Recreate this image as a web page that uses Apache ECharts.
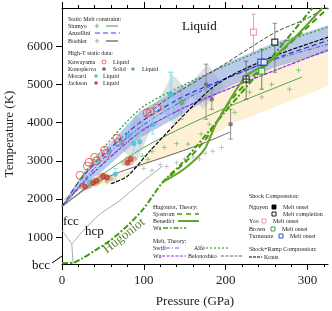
<!DOCTYPE html>
<html><head><meta charset="utf-8">
<script src="https://cdn.jsdelivr.net/npm/echarts@6/dist/echarts.min.js"></script>
<style>html,body{margin:0;padding:0;background:#fff}#c{width:332px;height:311px}</style>
</head><body><div id="c"></div>
<script>
// ---- axes ----
const xLabels = [0, 100, 200, 300];
const xMinor = [20, 40, 60, 80, 120, 140, 160, 180, 220, 240, 260, 280, 320];
const yLabels = [1000, 2000, 3000, 4000, 5000, 6000];

// ---- bands [P, T] ----
const krausBandUpper = [[20,2300],[60,2400],[80,2600],[107,3250],[140,4000],[180,4850],[205,5215],[260,5750],[325,6236]];
const krausBandLower = [[20,2200],[70,2650],[128,3100],[168,3420],[205,3950],[260,4400],[325,4950]];
const meltBandUpper = [[0,1820],[25,2650],[50,3250],[95,4300],[150,4980],[205,5600],[260,6100],[325,6550]];
const meltBandLower = [[0,1800],[25,2350],[50,2750],[95,3600],[150,4250],[205,4950],[260,5450],[325,5850]];
const morardShade1 = [[70,3300],[90,4200],[110,3900],[92,3000]];
const morardShade2 = [[115,4500],[135,5250],[158,4750],[138,3900]];
const konopShade = [[151,4900],[178,5530],[198,4950],[172,4350]];

// ---- phase boundaries ----
const bccFcc = [[0,1185],[12,820]];
const bccHcp = [[12,820],[13.5,300]];
const fccHcp = [[12,820],[25,1150],[46,1600],[70,1950],[95,2400],[123,2860]];

// ---- melt lines ----
const sinmyoLine = [[0,1800],[50,2650],[100,3350],[150,3900],[205,4430],[293,5190]];
const anzelliniLine = [[0,1800],[22,2500],[50,3150],[95,4000],[150,4700],[217,5300],[270,5750],[325,6150]];
const boehlerLine = [[0,1800],[35,2350],[70,2700],[128,3120],[168,3420],[205,3750]];
const swiftLine = [[0,1800],[50,3050],[100,3950],[150,4600],[200,5150],[260,5650],[325,6050]];
const wuMeltLine = [[0,1800],[34,2600],[95,3750],[150,4400],[217,5000],[270,5450],[325,5900]];
const alfeLine = [[0,1800],[40,3050],[95,4350],[150,5000],[217,5650],[270,6100],[325,6500]];
const belonoshkoLine = [[100,4150],[127,4600],[200,5550],[261,6370],[298,6710],[325,7050]];
const krausLine = [[60,2400],[80,2600],[107,3250],[140,4000],[180,4850],[205,5215],[260,5750],[325,6236]];

// ---- Hugoniots ----
const wuHugoniot = [[0,320],[15,340],[25,450],[40,650],[58,900],[80,1300],[99,1730],[123,2440],[145,2900],[163,3350],[200,4300],[250,5550],[306,7000]];
const sjostromHugoniot = [[123,2440],[150,2950],[175,3550],[205,4550],[235,5250],[257,5650],[290,6300],[325,7000]];
const benedictHugoniot = [[123,2440],[150,2800],[174,3300],[189,4000],[224,5200],[250,5550],[290,6350],[318,7000]];

// ---- data points [P, T] and error bars [P, T, low, high] ----
const kuwayama = [[22,2620],[31,2860],[33,2960],[40,3090],[42,3000],[52,3280],[54,3200],[67,3590],[69,3490],[104,4250],[108,4280],[116,4380]];
const jackson = [[28,2330],[38,2420],[42,2480],[50,2600],[55,2560],[80,2950],[84,3050]];
const morard = [[34,2440,2300,2600],[44,2990,2800,3150],[58,3250,3000,3500],[65,2650,2500,2800],[73,3490,3250,3700],[80,3650,3400,3950],[88,3450,3200,3700],[95,3500,3300,3750],[111,3960,3700,4400],[132,4740,4170,5320],[134,4740,4170,5320]];
const konopkovaSolid = [[176,5000,4090,5530],[183,4610,4350,4870],[206,3960,3570,4350]];
const konopkovaLiquid = [[146,4530,4090,4950]];
const sinmyoData = [[45,2500],[55,2450],[98,3120],[105,3040],[110,3250],[125,3350],[140,3450],[154,3440],[170,3700],[180,3960],[211,4270],[229,4800],[244,4670],[256,5000],[278,4875],[289,5370]];
const boehlerData = [[5,2000],[10,2050],[60,2500],[100,2800],[110,2750],[120,2900],[128,2850],[140,2950],[150,3050],[160,3100],[168,3050],[175,3200],[184,3250],[195,3350]];
const nguyenOnset = [[225,5140,4610,5610]];
const nguyenCompletion = [[260,6105,5320,6600]];
const yooOnset = [[234,6370,5840,6840]];
const brownOnset = [[244,5350,4875,5920]];
const turneaureOnset = [[243,5580],[247,5580]];

// ---------------- helpers ----------------
const SERIF = '"Liberation Serif", "DejaVu Serif", serif';
function bandSeries(upper, lower, fill, z) {
  return { type:'custom', z:z, silent:true, clip:true, xAxisIndex:0, yAxisIndex:0,
    renderItem: function(params, api) {
      const pts = upper.map(p => api.coord(p)).concat(lower.slice().reverse().map(p => api.coord(p)));
      return {type:'polygon', shape:{points:pts}, style:{fill:fill}};
    },
    data:[upper[0]] };
}
function polySeries(poly, fill, z) {
  return { type:'custom', z:z, silent:true, clip:true,
    renderItem: function(params, api) {
      return {type:'polygon', shape:{points: poly.map(p => api.coord(p))}, style:{fill:fill}};
    },
    data:[poly[0]] };
}
function lineSeries(data, color, width, dash, z) {
  return { type:'line', data:data, showSymbol:false, symbol:'none', smooth:0.25, silent:true, z:z||5,
    lineStyle:{color:color, width:width, type: dash || 'solid'} };
}
function errSeries(data, color, width, z) {
  return { type:'custom', z:z||6, silent:true, clip:true,
    renderItem: function(params, api) {
      const x = api.value(0), lo = api.value(2), hi = api.value(3);
      const a = api.coord([x, lo]), b = api.coord([x, hi]); const c = 2.2;
      const st = {stroke:color, lineWidth:width};
      return {type:'group', children:[
        {type:'line', shape:{x1:a[0],y1:a[1],x2:b[0],y2:b[1]}, style:st},
        {type:'line', shape:{x1:a[0]-c,y1:a[1],x2:a[0]+c,y2:a[1]}, style:st},
        {type:'line', shape:{x1:b[0]-c,y1:b[1],x2:b[0]+c,y2:b[1]}, style:st}]};
    },
    encode:{x:0, y:[2,3]}, data:data };
}
function scatter(data, symbol, size, itemStyle, z) {
  return { type:'scatter', data:data.map(d => [d[0], d[1]]), symbol:symbol, symbolSize:size, silent:true, z:z||8, itemStyle:itemStyle };
}
const PLUS = 'path://M0,4L8,4M4,0L4,8';
const XSQ = 'path://M0,0L8,0L8,8L0,8Z M4,0L4,8 M0,4L8,4';

// legend graphics
const LF = '6px ' + SERIF;
function T(x, y, text, font, fill) {
  return {type:'text', x:x, y:y, silent:true, z:100,
    style:{text:text, font:font||LF, fill:fill||'#222', verticalAlign:'middle', align:'left'}};
}
function L(x1, y1, x2, y2, color, w, dash) {
  return {type:'line', silent:true, z:100, shape:{x1:x1,y1:y1,x2:x2,y2:y2}, style:{stroke:color, lineWidth:w||1, lineDash:dash||null}};
}
function C(cx, cy, r, fill, stroke) {
  return {type:'circle', silent:true, z:100, shape:{cx:cx,cy:cy,r:r}, style:{fill:fill, stroke:stroke||null, lineWidth:0.8}};
}
function R(x, y, w, h, fill, stroke) {
  return {type:'rect', silent:true, z:100, shape:{x:x,y:y,width:w,height:h}, style:{fill:fill, stroke:stroke, lineWidth:0.9}};
}
function P(x, y, color) { return [L(x-2.2,y,x+2.2,y,color,0.8), L(x,y-2.2,x,y+2.2,color,0.8)]; }

const graphics = [
  T(68,19,'Static Melt constraint:'),
  T(68,26,'Sinmyo'), ...P(97,26,'#4caf50'), L(106,26,118,26,'#3c9e3c',1),
  T(68,33,'Anzellini'), L(95,33,120,33,'#3344ee',1,[5,3]),
  T(68,41,'Boehler'), ...P(97,41,'#999'), L(106,41,118,41,'#333',1),
  T(68,53,'High-T static data:'),
  T(68,62,'Kuwayama'), C(104,62,2,'none','#e8453c'), T(113,62,'Liquid'),
  T(68,69,'Konopkova'), C(104,69,1.8,'#666'), T(113,69,'Solid'), C(133,69,1.8,'#5cb85c'), T(142,69,'Liquid'),
  T(68,76,'Morard'), C(96,76,1.8,'#45c8d8'), T(103,76,'Liquid'),
  T(68,83,'Jackson'), C(96,83,1.8,'#d0433c'), T(103,83,'Liquid'),

  T(153,207,'Hugoniot, Theory:'),
  T(153,214,'Sjostrom'), L(177,214,199,214,'#4e9a06',1.6,[5,4]),
  T(153,221,'Benedict'), L(178,221,199,221,'#64a32c',2),
  T(153,228,'Wu'), L(163,228,186,228,'#3f9b0b',1.6,[5,2,1.5,2]),
  T(153,241,'Melt, Theory:'),
  T(153,248,'Swift'), L(166,248,181,248,'#5566ee',1.2,[4,2,1,2]), T(194,248,'Alfè'), L(206,248,228,248,'#5cb85c',1.5,[2,2]),
  T(153,256,'Wu'), L(162,256,186,256,'#8a2be2',1.2,[3,1.5]), T(188,256,'Belonoshko'), L(221,256,243,256,'#666',1.2,[3,1.5]),

  T(249,196,'Shock Compression:'),
  T(249,207,'Nguyen'), R(272,205,4,4,'#000','#000'), T(283,207,'Melt onset'),
  R(272,212,4,4,'#fff','#000'), T(283,214,'Melt completion'),
  T(249,221,'Yoo'), R(262,219,4,4,'#fff','#f08cb4'), T(273,221,'Melt onset'),
  T(249,229,'Brown'), R(271,227,4,4,'#fff','#2e9a2e'), T(282,229,'Melt onset'),
  T(249,236,'Turneaure'), R(279,234,4,4,'#fff','#1a3adf'), T(290,236,'Melt onset'),
  T(249,249,'Shock+Ramp Compression:'),
  L(249,257,262,257,'#000',1.2,[3,1]), T(264,257,'Kraus'),

  T(182,27,'Liquid','13px '+SERIF,'#111'),
  T(63,222,'fcc','13px '+SERIF,'#111'),
  T(85,232,'hcp','13px '+SERIF,'#111'),
  T(32,266,'bcc','13px '+SERIF,'#111'),
  L(52,263,62,256,'#000',1),
  {type:'text', x:124, y:236, rotation:0.66, silent:true, z:100,
   style:{text:'Hugoniot', font:'13px '+SERIF, fill:'#5d7b34', align:'center', verticalAlign:'middle'}},
  {type:'text', x:195, y:302, silent:true, z:100,
   style:{text:'Pressure (GPa)', font:'13px '+SERIF, fill:'#222', align:'center', verticalAlign:'middle'}},
  {type:'text', x:10, y:134, rotation:Math.PI/2, silent:true, z:100,
   style:{text:'Temperature (K)', font:'13px '+SERIF, fill:'#222', align:'center', verticalAlign:'middle'}}
];

const axisLineStyle = {lineStyle:{color:'#000', width:1}};
const plain = v => String(v);
const option = {
  animation:false,
  backgroundColor:'#fff',
  grid:{left:62, right:4, top:8, bottom:47},
  xAxis:[
    {type:'value', min:0, max:325, position:'bottom', axisLine:axisLineStyle,
     axisTick:{customValues:xLabels, length:6, lineStyle:{color:'#000'}},
     axisLabel:{customValues:xLabels, formatter:plain, fontFamily:SERIF, fontSize:13, color:'#222', margin:10},
     splitLine:{show:false}},
    {type:'value', min:0, max:325, position:'bottom', axisLine:{show:false},
     axisTick:{customValues:xMinor, length:3, lineStyle:{color:'#000'}}, axisLabel:{show:false}, splitLine:{show:false}},
    {type:'value', min:0, max:325, position:'top', axisLine:axisLineStyle,
     axisTick:{customValues:xLabels, length:6, lineStyle:{color:'#000'}}, axisLabel:{show:false}, splitLine:{show:false}},
    {type:'value', min:0, max:325, position:'top', axisLine:{show:false},
     axisTick:{customValues:xMinor, length:3, lineStyle:{color:'#000'}}, axisLabel:{show:false}, splitLine:{show:false}}
  ],
  yAxis:[
    {type:'value', min:300, max:7000, position:'left', axisLine:axisLineStyle,
     axisTick:{customValues:yLabels, length:6, lineStyle:{color:'#000'}},
     axisLabel:{customValues:yLabels, formatter:plain, fontFamily:SERIF, fontSize:13, color:'#222', margin:9},
     splitLine:{show:false}},
    {type:'value', min:300, max:7000, position:'right', axisLine:axisLineStyle,
     axisTick:{show:false}, axisLabel:{show:false}, splitLine:{show:false}}
  ],
  graphic: graphics,
  series:[
    bandSeries(krausBandUpper, krausBandLower, '#fdf0d5', 1),
    polySeries(morardShade1, 'rgba(160,168,180,0.35)', 2),
    polySeries(morardShade2, 'rgba(160,168,180,0.35)', 2),
    polySeries(konopShade, 'rgba(160,168,180,0.35)', 2),
    bandSeries(meltBandUpper, meltBandLower, 'rgba(130,158,220,0.55)', 3),

    lineSeries(bccFcc, '#aaa', 1), lineSeries(bccHcp, '#aaa', 1), lineSeries(fccHcp, '#aaa', 1),

    lineSeries(boehlerLine, '#555', 0.9),
    lineSeries(sinmyoLine, '#3c9e3c', 0.9),
    lineSeries(swiftLine, '#5566ee', 1.1, [4,2,1,2]),
    lineSeries(wuMeltLine, '#8a2be2', 1.2, [4,1]),
    lineSeries(anzelliniLine, '#2233ee', 1.2, [5,3]),
    lineSeries(alfeLine, '#3aa03a', 1.3, [2,2]),
    lineSeries(belonoshkoLine, '#444', 1, [4,2]),
    lineSeries(krausLine, '#000', 1.2, [4,1.5]),

    lineSeries(wuHugoniot, '#3f9b0b', 2, [6,2,2,2], 6),
    lineSeries(sjostromHugoniot, '#4e9a06', 2, [6,4], 6),
    lineSeries(benedictHugoniot, '#64a32c', 2, 'solid', 6),

    scatter(jackson, 'circle', [13,7], {color:'rgba(185,100,40,0.45)'}, 7),

    errSeries(morard, '#7fe3ee', 0.9),
    errSeries(konopkovaSolid, '#888', 0.9),
    errSeries(konopkovaLiquid, '#6c6', 0.9),
    errSeries(nguyenOnset, '#666', 0.9),
    errSeries(nguyenCompletion, '#777', 0.9),
    errSeries(yooOnset, '#f08cb4', 0.9),
    errSeries(brownOnset, '#2e9a2e', 0.9),

    scatter(boehlerData, PLUS, 5, {color:'none', borderColor:'#aaa', borderWidth:0.8}),
    scatter(sinmyoData, PLUS, 5, {color:'none', borderColor:'#5cb85c', borderWidth:0.8}),
    scatter(morard, 'circle', 4.5, {color:'#45c8d8', borderColor:'#2aa7b8', borderWidth:0.5}),
    scatter(konopkovaSolid, 'circle', 4.5, {color:'#666'}),
    scatter(konopkovaLiquid, 'circle', 4.5, {color:'#5cb85c', borderColor:'#2e8b2e', borderWidth:0.5}),
    scatter(jackson, 'circle', 5, {color:'#d0433c', borderColor:'#a02020', borderWidth:0.5}, 9),
    scatter(kuwayama, 'circle', 8, {color:'rgba(0,0,0,0)', borderColor:'#e8453c', borderWidth:1}, 9),
    scatter(nguyenOnset, XSQ, 6, {color:'#fff', borderColor:'#000', borderWidth:1}, 10),
    scatter(nguyenCompletion, 'rect', 6, {color:'#fff', borderColor:'#000', borderWidth:1.2}, 10),
    scatter(yooOnset, 'rect', 6, {color:'#fff', borderColor:'#f08cb4', borderWidth:1.2}, 10),
    scatter(brownOnset, 'rect', 6, {color:'#fff', borderColor:'#2e9a2e', borderWidth:1.2}, 10),
    scatter(turneaureOnset, 'rect', 6, {color:'#fff', borderColor:'#1a3adf', borderWidth:1.4}, 10)
  ]
};
const chart = echarts.init(document.getElementById('c'));
chart.setOption(option);
</script></body></html>
